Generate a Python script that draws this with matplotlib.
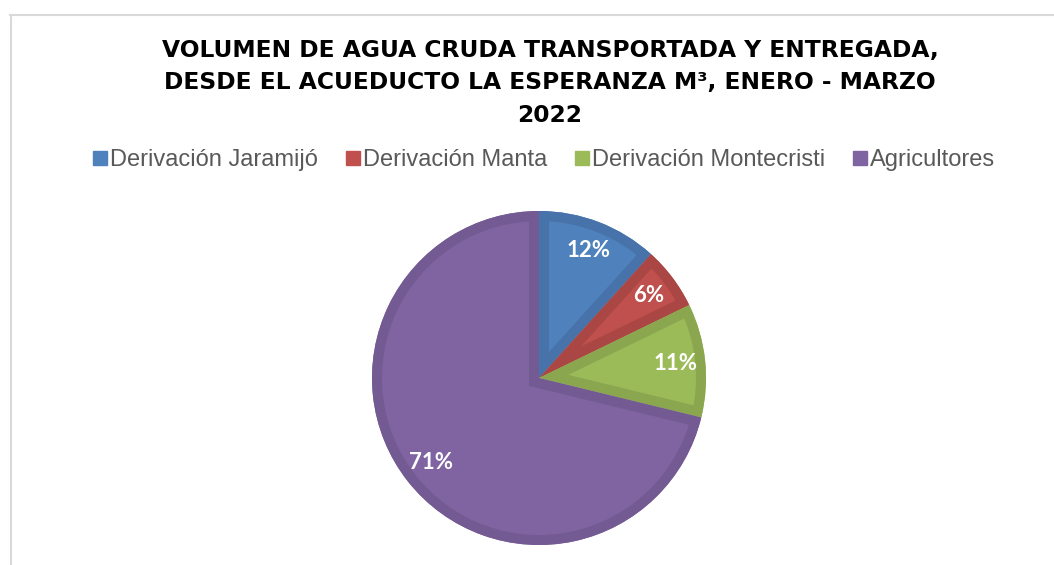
import matplotlib
matplotlib.use('Agg')
import matplotlib.pyplot as plt
from matplotlib.lines import Line2D
from matplotlib.patches import Wedge

categories = ['Derivación Jaramijó', 'Derivación Manta', 'Derivación Montecristi', 'Agricultores']
shares = [11.7, 6.1, 11.0, 71.2]
colors = ['#4F81BD', '#C0504D', '#9BBB59', '#8064A2']
edge_colors = ['#4773AA', '#AA4744', '#8AA74F', '#735A92']
title = 'VOLUMEN DE AGUA CRUDA TRANSPORTADA Y ENTREGADA,\nDESDE EL ACUEDUCTO LA ESPERANZA M³, ENERO - MARZO\n2022'

W, H = 1054, 565
fig = plt.figure(figsize=(W / 100, H / 100), dpi=100)

# pie axes: centre (539, 378) px, radius 167 px
cx, cy, r = 539, 378, 167
ax = fig.add_axes([(cx - r) / W, (H - cy - r) / H, 2 * r / W, 2 * r / H])
wedges, texts, autotexts = ax.pie(
    shares, colors=colors, startangle=90, counterclock=False,
    autopct='%1.0f%%', pctdistance=0.82,
    wedgeprops=dict(linewidth=0),
    textprops=dict(color='white', fontsize=16, fontweight='bold', family='Lato'))
ax.set_xlim(-1, 1)
ax.set_ylim(-1, 1)
ax.axis('off')

# inner darker border: a thick outline clipped to its own slice
for w, ec in zip(wedges, edge_colors):
    clip = Wedge(w.center, w.r, w.theta1, w.theta2, transform=ax.transData)
    border = Wedge(w.center, w.r, w.theta1, w.theta2, facecolor='none',
                   edgecolor=ec, linewidth=14.4, zorder=w.get_zorder() + 0.1)
    ax.add_patch(border)
    border.set_clip_path(clip)
for t in autotexts:
    t.set_zorder(5)

fig.text(550 / W, 1 - 83 / H, title, ha='center', va='center',
         fontsize=16.8, fontweight='bold', family='DejaVu Sans',
         linespacing=1.5, color='black')

handles = [Line2D([], [], marker='s', linestyle='none', markersize=9.5,
                  color=c) for c in colors]
fig.legend(handles, categories, loc='center', bbox_to_anchor=(544 / W, 1 - 160 / H),
           ncol=4, frameon=False, handlelength=0.6, handletextpad=0.1,
           columnspacing=1.2, borderpad=0,
           prop=dict(family='Liberation Sans', size=17), labelcolor='#595959')

# chart frame (top and left edges)
fig.add_artist(Line2D([10 / W, 1], [1 - 15 / H, 1 - 15 / H], transform=fig.transFigure,
                      color='#D9D9D9', lw=1.5))
fig.add_artist(Line2D([11 / W, 11 / W], [0, 1 - 15 / H], transform=fig.transFigure,
                      color='#D9D9D9', lw=1.5))

fig.savefig('out.png', dpi=100)
